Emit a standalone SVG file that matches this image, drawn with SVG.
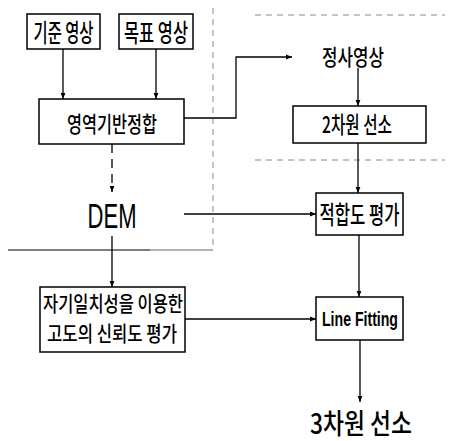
<svg xmlns="http://www.w3.org/2000/svg" width="457" height="441" viewBox="0 0 457 441">
<style>
.box{fill:#fff;stroke:#000;stroke-width:1.5}
.t{font-family:"Noto Sans CJK KR","Noto Sans",sans-serif;font-weight:500;fill:#000;text-anchor:middle;dominant-baseline:central}
.l{font-family:"Liberation Sans",Arial,sans-serif;fill:#000;text-anchor:middle;dominant-baseline:central}
.c{fill:none;stroke:#000;stroke-width:1.3}
.d{fill:none;stroke:#000;stroke-width:1.3;stroke-dasharray:9 6}
.g{fill:none;stroke:#888;stroke-width:1;stroke-dasharray:6 5}
</style>
<defs>
<marker id="ah" viewBox="0 0 10 10" refX="10" refY="5" markerWidth="6" markerHeight="6" orient="auto" markerUnits="userSpaceOnUse">
<path d="M0,1 L10,5 L0,9 Z" fill="#000"/>
</marker>
</defs>
<g id="guides">
<line class="g" x1="255" y1="15" x2="445" y2="15"/>
<line class="g" x1="213" y1="8" x2="213" y2="250"/>
<line class="g" x1="255" y1="160" x2="445" y2="160"/>
<line x1="8" y1="250" x2="150" y2="250" stroke="#000" stroke-width="1.2"/>
<line x1="150" y1="250" x2="213" y2="250" stroke="#666" stroke-width="1"/>
</g>
<g id="connectors">
<line class="c" x1="63" y1="49" x2="63" y2="99" marker-end="url(#ah)"/>
<line class="c" x1="156" y1="49" x2="156" y2="99" marker-end="url(#ah)"/>
<polyline class="c" points="184,118 236,118 236,57 292,57" marker-end="url(#ah)"/>
<line class="c" x1="358" y1="68" x2="358" y2="106" marker-end="url(#ah)"/>
<line class="c" x1="358" y1="143" x2="358" y2="193" marker-end="url(#ah)"/>
<line class="d" x1="112" y1="144" x2="112" y2="192" marker-end="url(#ah)"/>
<line class="c" x1="112" y1="236" x2="112" y2="287" marker-end="url(#ah)"/>
<line class="c" x1="184" y1="214" x2="316" y2="214" marker-end="url(#ah)"/>
<line class="c" x1="359" y1="235" x2="359" y2="297" marker-end="url(#ah)"/>
<line class="c" x1="185" y1="319" x2="316" y2="319" marker-end="url(#ah)"/>
<line class="c" x1="360" y1="340" x2="360" y2="402" marker-end="url(#ah)"/>
</g>
<g id="n1">
<rect class="box" x="27" y="14" width="73" height="35"/>
<text class="t" x="63.5" y="31" font-size="25" textLength="60" lengthAdjust="spacingAndGlyphs">기준 영상</text>
</g>
<g id="n2">
<rect class="box" x="119" y="14" width="74" height="35"/>
<text class="t" x="156" y="31" font-size="25" textLength="64" lengthAdjust="spacingAndGlyphs">목표 영상</text>
</g>
<g id="n3">
<rect class="box" x="39" y="99" width="145" height="45"/>
<text class="t" x="112" y="122" font-size="22" textLength="90" lengthAdjust="spacingAndGlyphs">영역기반정합</text>
</g>
<g id="n4">
<text class="t" x="353" y="55" font-size="22" textLength="62" lengthAdjust="spacingAndGlyphs">정사영상</text>
</g>
<g id="n5">
<rect class="box" x="293" y="106" width="133" height="37"/>
<text class="t" x="357" y="123" font-size="23" textLength="70" lengthAdjust="spacingAndGlyphs">2차원 선소</text>
</g>
<g id="n6">
<text class="l" x="112" y="215" font-size="35" textLength="49" lengthAdjust="spacingAndGlyphs">DEM</text>
</g>
<g id="n7">
<rect class="box" x="316" y="193" width="87" height="42"/>
<text class="t" x="359.5" y="213" font-size="25" textLength="80" lengthAdjust="spacingAndGlyphs">적합도 평가</text>
</g>
<g id="n8">
<rect class="box" x="40" y="287" width="145" height="65"/>
<text class="t" x="113" y="302" font-size="21" textLength="140" lengthAdjust="spacingAndGlyphs">자기일치성을 이용한</text>
<text class="t" x="112" y="332" font-size="21" textLength="130" lengthAdjust="spacingAndGlyphs">고도의 신뢰도 평가</text>
</g>
<g id="n9">
<rect class="box" x="316" y="297" width="87" height="43"/>
<text class="l" x="360" y="318" font-size="21" font-weight="bold" textLength="76" lengthAdjust="spacingAndGlyphs">Line Fitting</text>
</g>
<g id="n10">
<text class="t" x="361" y="422" font-size="28" textLength="102" lengthAdjust="spacingAndGlyphs">3차원 선소</text>
</g>
</svg>
